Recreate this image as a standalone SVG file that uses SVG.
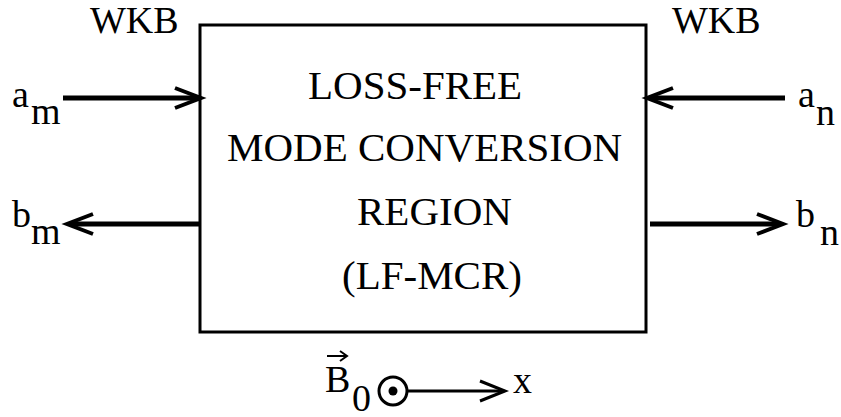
<svg xmlns="http://www.w3.org/2000/svg" width="841" height="417" viewBox="0 0 841 417">
<style>
text{fill:#000;font-family:Liberation Serif, Times New Roman, DejaVu Serif, serif}
.big{font-size:41px}
.lab{font-size:38px}
.shaft{stroke:#000;stroke-width:5;fill:none}
.head{stroke:#000;stroke-width:4;fill:none;stroke-linecap:butt;stroke-linejoin:miter}
.thin{stroke:#000;stroke-width:3;fill:none}
</style>
<rect width="841" height="417" fill="#fff"/>
<g id="region">
<rect x="200" y="25" width="446" height="307" fill="none" stroke="#000" stroke-width="3"/>
<text class="big" x="308" y="99">LOSS-FREE</text>
<text class="big" x="227" y="161">MODE CONVERSION</text>
<text class="big" x="357" y="225">REGION</text>
<text class="big" x="342" y="289">(LF-MCR)</text>
</g>
<g id="wkb-left"><text class="lab" x="90" y="33">WKB</text></g>
<g id="wkb-right"><text class="lab" x="672" y="33">WKB</text></g>
<g id="am"><text class="lab" x="12" y="107">a</text><text class="lab" x="31" y="124">m</text></g>
<g id="bm"><text class="lab" x="12" y="227">b</text><text class="lab" x="31" y="244">m</text></g>
<g id="an"><text class="lab" x="798" y="107">a</text><text class="lab" x="816" y="125">n</text></g>
<g id="bn"><text class="lab" x="796" y="227">b</text><text class="lab" x="820" y="245">n</text></g>
<g id="field">
<text class="lab" x="325" y="392">B</text>
<text class="lab" x="352" y="411">0</text>
<line x1="327" y1="356" x2="346" y2="356" stroke="#000" stroke-width="2"/>
<path d="M340,351 L347,356 L340,361" fill="none" stroke="#000" stroke-width="2"/>
<circle cx="393" cy="391" r="14" fill="none" stroke="#000" stroke-width="3"/>
<circle cx="393" cy="391" r="4.5" fill="#000"/>
<text class="lab" x="513" y="393">x</text>
</g>
<g id="connectors">
<line class="shaft" x1="63" y1="98" x2="199" y2="98"/>
<path class="head" d="M175,88 L201,98 L175,108"/>
<line class="shaft" x1="200" y1="224" x2="70" y2="224"/>
<path class="head" d="M93,214 L67,224 L93,234"/>
<line class="shaft" x1="785" y1="98" x2="649" y2="98"/>
<path class="head" d="M673,88 L647,98 L673,108"/>
<line class="shaft" x1="650" y1="224" x2="780" y2="224"/>
<path class="head" d="M757,214 L783,224 L757,234"/>
<line class="thin" x1="408" y1="391" x2="503" y2="391"/>
<path class="thin" d="M480,381 L505,391 L480,401"/>
</g>
</svg>
